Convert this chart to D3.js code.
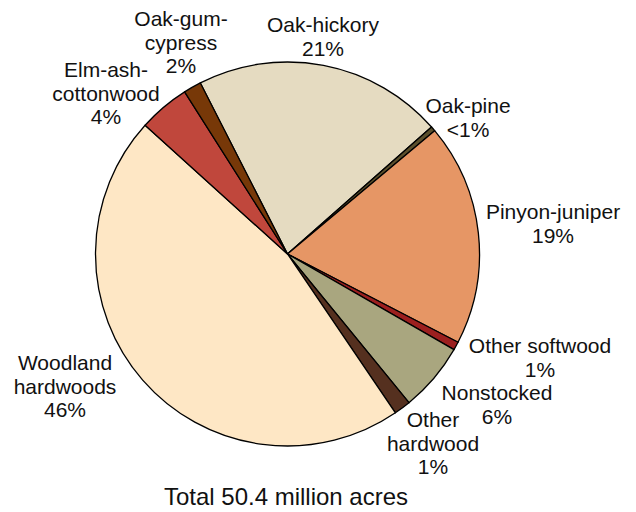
<!DOCTYPE html>
<html>
<head>
<meta charset="utf-8">
<script src="https://cdn.jsdelivr.net/npm/d3@7"></script>
<style>
  html, body { margin: 0; padding: 0; background: #ffffff; }
  svg { display: block; }
  text { font-family: "Liberation Sans", Arial, Helvetica, sans-serif; fill: #111111; }
</style>
</head>
<body>
<svg id="chart" width="636" height="512"></svg>
<script>
// Forest-type groups, clockwise from the Oak-hickory wedge
const categories = [
  "Oak-hickory", "Oak-pine", "Pinyon-juniper", "Other softwood", "Nonstocked",
  "Other hardwood", "Woodland hardwoods", "Elm-ash-cottonwood", "Oak-gum-cypress"
];
// Share of total area, percent
const shares = [21.0, 0.4, 18.7, 0.7, 5.8, 1.4, 46.2, 4.3, 1.5];
// Label text broken into lines
const labelLines = [
  ["Oak-hickory"], ["Oak-pine"], ["Pinyon-juniper"], ["Other softwood"], ["Nonstocked"],
  ["Other", "hardwood"], ["Woodland", "hardwoods"], ["Elm-ash-", "cottonwood"], ["Oak-gum-", "cypress"]
];
const totalLabel = "Total 50.4 million acres";

const colors = [
  "#e5dbc1", "#5b4f2c", "#e69665", "#9c1f1f", "#a9a67f",
  "#55301f", "#fee7c5", "#c0473c", "#773808"
];
// Label anchors: centre x and first baseline
const labelAnchors = [
  [323, 32], [468, 113], [553, 219], [540, 353], [497, 400],
  [433, 427], [65, 370], [106, 77], [181, 26]
];

const cx = 287.5, cy = 254, radius = 192;
const startDeg = -27;

const svg = d3.select("#chart");
const data = categories.map((c, i) => ({ name: c, value: shares[i], i }));

const pie = d3.pie()
  .sort(null)
  .value(d => d.value)
  .startAngle(startDeg * Math.PI / 180)
  .endAngle(startDeg * Math.PI / 180 + 2 * Math.PI);

const arc = d3.arc().innerRadius(0).outerRadius(radius);

const g = svg.append("g").attr("transform", `translate(${cx},${cy})`);
g.selectAll("path")
  .data(pie(data))
  .join("path")
  .attr("d", arc)
  .attr("fill", d => colors[d.data.i])
  .attr("stroke", "#000000")
  .attr("stroke-width", 1.3)
  .attr("stroke-linejoin", "round");

const fmt = v => v < 0.5 ? "<1%" : Math.round(v) + "%";
const lineH = 23.5;

const labels = svg.append("g").attr("font-size", 21).attr("text-anchor", "middle");
data.forEach(d => {
  const [x, y] = labelAnchors[d.i];
  const lines = labelLines[d.i].concat([fmt(d.value)]);
  const t = labels.append("text").attr("x", x).attr("y", y);
  lines.forEach((ln, k) => {
    t.append("tspan").attr("x", x).attr("y", y + k * lineH).text(ln);
  });
});

svg.append("text")
  .attr("x", 286)
  .attr("y", 505)
  .attr("text-anchor", "middle")
  .attr("font-size", 24)
  .text(totalLabel);
</script>
</body>
</html>
